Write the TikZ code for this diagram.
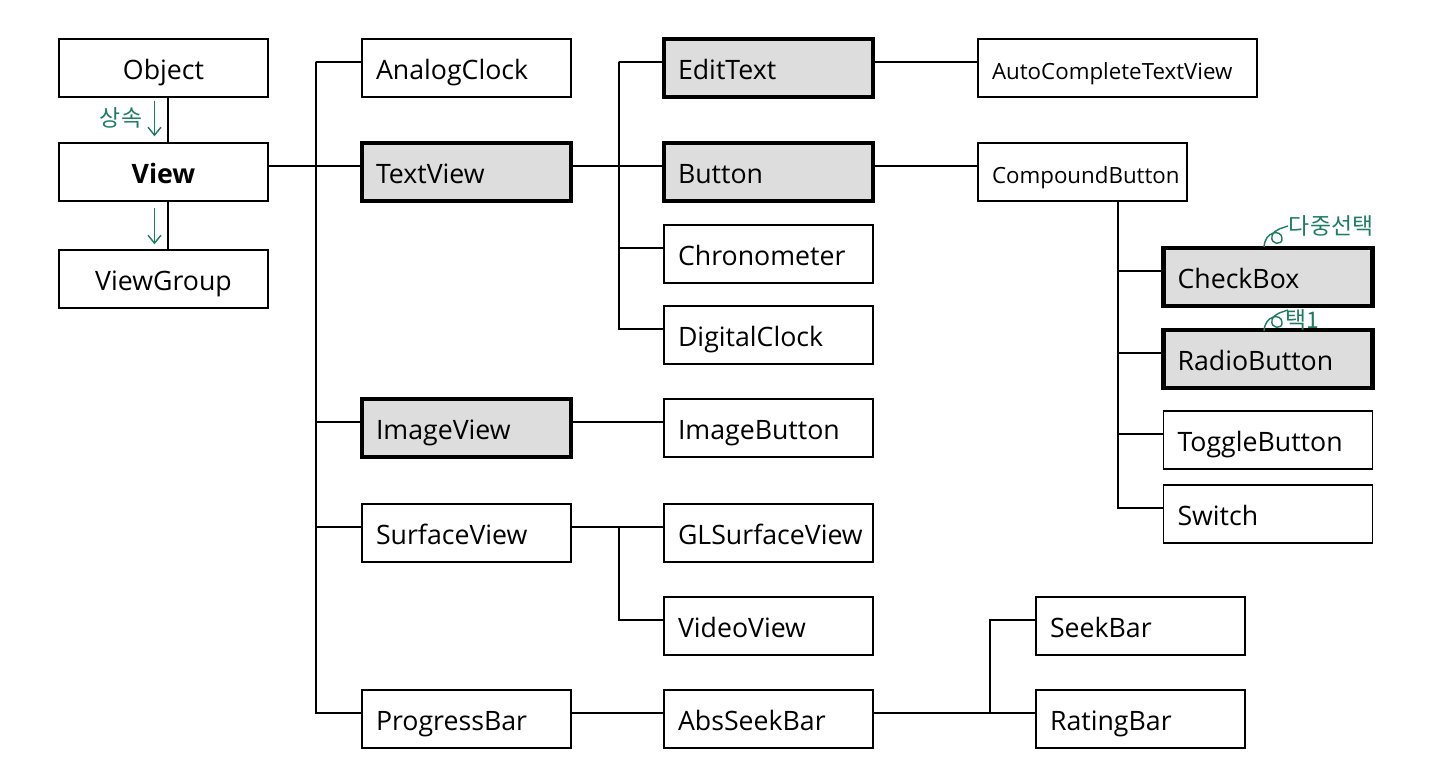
\documentclass[tikz,border=0pt]{standalone}
\usepackage{fontspec}
\setmainfont{Open Sans}
\newfontfamily\kfont{Noto Sans CJK KR}
\usetikzlibrary{arrows.meta}
\definecolor{annot}{RGB}{30,125,95}
\definecolor{hlgray}{RGB}{221,221,221}
\begin{document}
\begin{tikzpicture}[x=0.02cm, y=-0.02cm,
        box/.style={rectangle, draw, line width=0.8pt, minimum width=4.18cm, minimum height=1.16cm,
            inner xsep=0.28cm, text width=3.62cm, align=left, text height=12.8pt, text depth=0pt,
            font=\fontsize{15.2}{18}\selectfont},
        cbox/.style={box, align=center},
        hbox/.style={box, line width=2.4pt, fill=hlgray},
        sbox/.style={box, font=\fontsize{12.7}{15}\selectfont},
        line/.style={line width=0.8pt},
        note/.style={annot, line width=0.8pt},
        notetext/.style={text=annot, font=\kfont\fontsize{13}{15}\selectfont}
    ]
        \useasboundingbox (0,0) rectangle (1440,778);

        % Root classes
        \node (obj) [cbox] at (163.5,68) {Object};
        \node (view) [cbox] at (163.5,172) {\textbf{View}};
        \node (vgroup) [cbox] at (163.5,279) {ViewGroup};

        % Direct subclasses of View
        \node (aclock) [box] at (466.5,68) {AnalogClock};
        \node (tview) [hbox] at (466.5,172) {TextView};
        \node (iview) [hbox] at (466.5,428) {ImageView};
        \node (sview) [box] at (466.5,533) {SurfaceView};
        \node (pbar) [box] at (466.5,719) {ProgressBar};

        % Second level
        \node (etext) [hbox] at (768.5,68) {EditText};
        \node (btn) [hbox] at (768.5,172) {Button};
        \node (chrono) [box] at (768.5,254) {Chronometer};
        \node (dclock) [box] at (768.5,335) {DigitalClock};
        \node (ibtn) [box] at (768.5,428) {ImageButton};
        \node (glsv) [box] at (768.5,533) {GLSurfaceView};
        \node (vview) [box] at (768.5,626) {VideoView};
        \node (asbar) [box] at (768.5,719) {AbsSeekBar};

        % Third level
        \node (actv) [sbox, minimum width=5.58cm, text width=5.02cm] at (1117.5,68) {AutoCompleteTextView};
        \node (cbtn) [sbox] at (1082.5,172) {CompoundButton};
        \node (chk) [hbox] at (1268,277) {CheckBox};
        \node (radio) [hbox] at (1268,359) {RadioButton};
        \node (toggle) [box] at (1268,440) {ToggleButton};
        \node (sw) [box] at (1268,514) {Switch};
        \node (sbar) [box] at (1140.5,626) {SeekBar};
        \node (rbar) [box] at (1140.5,719) {RatingBar};

        % Trunk points
        \coordinate (trunkA) at (316,62);
        \coordinate (trunkB) at (619,62);
        \coordinate (trunkC) at (1118,201);
        \coordinate (trunkD) at (619,527);
        \coordinate (trunkE) at (990,714);

        % Inheritance Object -> View -> ViewGroup
        \draw[line] ([xshift=0.9mm]obj.south) -- ([xshift=0.9mm]view.north);
        \draw[line] ([xshift=0.9mm]view.south) -- ([xshift=0.9mm]vgroup.north);

        % View subtree
        \draw[line] ([yshift=1.2mm]view.east) -- ([yshift=1.2mm]tview.west);
        \foreach \c in {aclock, tview, iview, sview, pbar}
            \draw[line] (trunkA) |- ([yshift=1.2mm]\c.west);

        % TextView subtree
        \draw[line] ([yshift=1.2mm]tview.east) -- ([yshift=1.2mm]btn.west);
        \foreach \c in {etext, btn, chrono, dclock}
            \draw[line] (trunkB) |- ([yshift=1.2mm]\c.west);
        \draw[line] ([yshift=1.2mm]etext.east) -- ([yshift=1.2mm]actv.west);
        \draw[line] ([yshift=1.2mm]btn.east) -- ([yshift=1.2mm]cbtn.west);

        % CompoundButton subtree
        \foreach \c in {chk, radio, toggle, sw}
            \draw[line] (trunkC) |- ([yshift=1.2mm]\c.west);

        % ImageView, SurfaceView, ProgressBar
        \draw[line] ([yshift=1.2mm]iview.east) -- ([yshift=1.2mm]ibtn.west);
        \draw[line] ([yshift=1.2mm]sview.east) -- ([yshift=1.2mm]glsv.west);
        \draw[line] (trunkD) |- ([yshift=1.2mm]vview.west);
        \draw[line] ([yshift=1.2mm]pbar.east) -- ([yshift=1.2mm]asbar.west);
        \draw[line] ([yshift=1.2mm]asbar.east) -- ([yshift=1.2mm]rbar.west);
        \draw[line] (trunkE) |- ([yshift=1.2mm]sbar.west);

        % Handwritten notes
        \draw[note, -{Straight Barb[length=1.6mm, width=2.6mm]}, shorten <=0.06cm, shorten >=0.12cm]
            ([xshift=-0.18cm]obj.south) -- ([xshift=-0.18cm]view.north);
        \draw[note, -{Straight Barb[length=1.6mm, width=2.6mm]}, shorten <=0.12cm, shorten >=0.1cm]
            ([xshift=-0.18cm]view.south) -- ([xshift=-0.18cm]vgroup.north);
        \node (inherit) [notetext] at (121,118) {상속};
        \node (multi) [notetext] at (1331,226) {다중선택};
        \node (single) [notetext] at (1302,320) {택1};
        \foreach \dy in {0,84}
            \draw[note, shift={(0,\dy)}] (1264,247) .. controls (1265,231) and (1281,229) .. (1282,238)
                .. controls (1283,246) and (1270,245) .. (1272,236)
                .. controls (1274,229) and (1283,228) .. (1288,226);
    \end{tikzpicture}
\end{document}
